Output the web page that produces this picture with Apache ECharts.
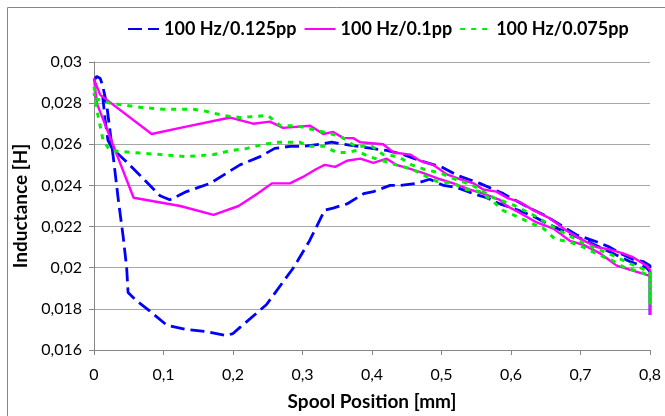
<!DOCTYPE html>
<html>
<head>
<meta charset="utf-8">
<script src="https://cdn.jsdelivr.net/npm/echarts@6/dist/echarts.min.js"></script>
<style>
html,body{margin:0;padding:0;background:#fff;}
#chart{width:665px;height:416px;}
</style>
</head>
<body>
<div id="chart"></div>
<script>
const seriesNames = ['100 Hz/0.125pp', '100 Hz/0.1pp', '100 Hz/0.075pp'];
const xTicks = [0, 0.1, 0.2, 0.3, 0.4, 0.5, 0.6, 0.7, 0.8];
const yTicks = [0.016, 0.018, 0.02, 0.022, 0.024, 0.026, 0.028, 0.03];

// [spool position (mm), inductance (H)] traced around each hysteresis loop
const blueData = [
  [0, 0.0291], [0.004, 0.0293], [0.009, 0.0292], [0.012, 0.0289],
  [0.018, 0.0280], [0.028, 0.0253], [0.035, 0.0233], [0.042, 0.0215], [0.047, 0.0200],
  [0.049, 0.0188], [0.061, 0.0184], [0.08, 0.0179], [0.105, 0.0172], [0.133, 0.0170],
  [0.16, 0.0169], [0.19, 0.0167], [0.2, 0.0168], [0.21, 0.0171], [0.248, 0.0182],
  [0.287, 0.0200], [0.31, 0.0213], [0.332, 0.0228], [0.344, 0.0229], [0.354, 0.0230],
  [0.364, 0.0231], [0.388, 0.0236], [0.402, 0.0237], [0.426, 0.0240], [0.44, 0.0240],
  [0.464, 0.0241], [0.483, 0.0243], [0.503, 0.0240], [0.522, 0.0239], [0.546, 0.0236],
  [0.565, 0.0234], [0.584, 0.0231], [0.61, 0.0228], [0.632, 0.0225], [0.655, 0.0221],
  [0.68, 0.0217], [0.709, 0.0213], [0.74, 0.0208], [0.771, 0.0203], [0.795, 0.0200],
  [0.8, 0.0198], [0.8, 0.0177], [0.8, 0.0201],
  [0.79, 0.0203], [0.776, 0.0204], [0.757, 0.0207], [0.742, 0.0210], [0.728, 0.0212],
  [0.694, 0.0216], [0.675, 0.0220], [0.651, 0.0225], [0.627, 0.0229], [0.605, 0.0233],
  [0.589, 0.0236], [0.555, 0.0241], [0.522, 0.0245], [0.5, 0.0249], [0.469, 0.0252],
  [0.445, 0.0255], [0.421, 0.0257], [0.4, 0.0258], [0.38, 0.0259], [0.359, 0.0260],
  [0.342, 0.0261], [0.325, 0.0260], [0.301, 0.0259], [0.282, 0.0259], [0.26, 0.0258],
  [0.239, 0.0254], [0.21, 0.0250], [0.167, 0.0241], [0.133, 0.0237], [0.109, 0.0233],
  [0.095, 0.0235], [0.066, 0.0245], [0.042, 0.0253], [0.026, 0.0258], [0.02, 0.0262],
  [0.016, 0.0272], [0.012, 0.0285]
];

const magentaData = [
  [0, 0.0292], [0.002, 0.0286], [0.004, 0.0280], [0.057, 0.0234], [0.124, 0.0230],
  [0.172, 0.02257], [0.208, 0.0230], [0.235, 0.0236], [0.256, 0.0241], [0.282, 0.0241],
  [0.30, 0.0244], [0.32, 0.0248], [0.332, 0.0250], [0.347, 0.0249], [0.364, 0.0252],
  [0.383, 0.0253], [0.402, 0.0251], [0.421, 0.0253], [0.435, 0.0250], [0.455, 0.0248],
  [0.474, 0.0246], [0.498, 0.0243], [0.517, 0.0241], [0.541, 0.0238], [0.56, 0.0236],
  [0.584, 0.0233], [0.594, 0.0230], [0.611, 0.0227], [0.637, 0.0222], [0.661, 0.0219],
  [0.685, 0.0213], [0.705, 0.0211], [0.728, 0.0207], [0.752, 0.0201], [0.781, 0.0198],
  [0.8, 0.0196], [0.8, 0.0177], [0.8, 0.0199],
  [0.795, 0.0201], [0.776, 0.0205], [0.761, 0.0207], [0.74, 0.0209], [0.723, 0.0210],
  [0.70, 0.0214], [0.68, 0.0218], [0.656, 0.0224], [0.632, 0.0228], [0.612, 0.0232],
  [0.594, 0.0234], [0.579, 0.0237], [0.56, 0.0238], [0.546, 0.0241], [0.527, 0.0243],
  [0.507, 0.02455], [0.488, 0.0250], [0.469, 0.0252], [0.455, 0.0255], [0.431, 0.0256],
  [0.416, 0.0260], [0.383, 0.0261], [0.373, 0.0263], [0.359, 0.0263], [0.344, 0.0266],
  [0.33, 0.0265], [0.311, 0.0269], [0.272, 0.0268], [0.253, 0.0271], [0.229, 0.0270],
  [0.196, 0.0273], [0.124, 0.0268], [0.083, 0.0265], [0.009, 0.0284], [0.002, 0.0290],
  [0, 0.0292]
];

const greenData = [
  [0, 0.0288], [0.004, 0.0282], [0.023, 0.0280], [0.066, 0.0278], [0.1, 0.0277],
  [0.143, 0.0277], [0.162, 0.0276], [0.186, 0.0274], [0.21, 0.0273], [0.25, 0.0274],
  [0.268, 0.0269], [0.292, 0.0269], [0.316, 0.0267], [0.33, 0.0266], [0.354, 0.0264],
  [0.376, 0.0259], [0.4, 0.0259], [0.416, 0.0255], [0.438, 0.0254], [0.457, 0.0250],
  [0.474, 0.0248], [0.498, 0.0246], [0.52, 0.0243], [0.545, 0.0240], [0.575, 0.0234],
  [0.6, 0.0231], [0.63, 0.0226], [0.67, 0.0218], [0.709, 0.0211], [0.74, 0.0207],
  [0.771, 0.0202], [0.8, 0.0198], [0.8, 0.0182], [0.8, 0.0196],
  [0.786, 0.0198], [0.764, 0.0200], [0.745, 0.02036], [0.723, 0.02068], [0.704, 0.0210],
  [0.685, 0.02125], [0.663, 0.0214], [0.647, 0.0219], [0.627, 0.0222], [0.611, 0.02245],
  [0.589, 0.02277], [0.575, 0.0232], [0.555, 0.0237], [0.536, 0.0238], [0.517, 0.0241],
  [0.493, 0.0242], [0.474, 0.0245], [0.457, 0.0248], [0.435, 0.0250], [0.416, 0.0252],
  [0.395, 0.0254], [0.378, 0.0257], [0.364, 0.0256], [0.349, 0.0256], [0.332, 0.0259],
  [0.311, 0.0259], [0.296, 0.0261], [0.265, 0.0261], [0.244, 0.0260], [0.22, 0.0258],
  [0.198, 0.0257], [0.172, 0.0255], [0.133, 0.0254], [0.095, 0.0255], [0.057, 0.0256],
  [0.023, 0.0257], [0.013, 0.0262], [0.004, 0.0277], [0, 0.0285]
];

const fmt = v => String(parseFloat(v.toFixed(3))).replace('.', ',');
const font = 'Lato, "Liberation Sans", sans-serif';

const chart = echarts.init(document.getElementById('chart'), null, {renderer: 'canvas'});
chart.setOption({
  animation: false,
  backgroundColor: '#ffffff',
  graphic: [{
    type: 'rect', silent: true, z: -10,
    shape: {x: 7.5, y: 7.5, width: 700, height: 450},
    style: {fill: 'none', stroke: '#868686', lineWidth: 1}
  }],
  legend: {
    left: 122, top: 15,
    itemWidth: 31, itemHeight: 14, itemGap: 7,
    itemStyle: {opacity: 0},
    textStyle: {fontFamily: font, fontWeight: 'bold', fontSize: 18, color: '#000'},
    data: seriesNames
  },
  grid: {left: 94, right: 15, top: 62, bottom: 64, containLabel: false},
  xAxis: {
    type: 'value', min: 0, max: 0.8, interval: 0.1,
    name: 'Spool Position [mm]', nameLocation: 'middle', nameGap: 42,
    nameTextStyle: {fontFamily: font, fontWeight: 'bold', fontSize: 19, color: '#000'},
    axisLine: {show: true, lineStyle: {color: '#868686', width: 1}},
    axisTick: {show: true, length: 5, lineStyle: {color: '#868686'}},
    axisLabel: {margin: 17, fontFamily: font, fontSize: 16, color: '#000', formatter: fmt},
    splitLine: {show: false}
  },
  yAxis: {
    type: 'value', min: 0.016, max: 0.03, interval: 0.002,
    name: 'Inductance [H]', nameLocation: 'middle', nameGap: 58,
    nameTextStyle: {fontFamily: font, fontWeight: 'bold', fontSize: 19, color: '#000'},
    axisLine: {show: true, lineStyle: {color: '#868686', width: 1}},
    axisTick: {show: true, length: 5, lineStyle: {color: '#868686'}},
    axisLabel: {margin: 12, fontFamily: font, fontSize: 16, color: '#000', formatter: fmt},
    splitLine: {show: true, lineStyle: {color: '#a6a6a6', width: 1}}
  },
  series: [
    {name: seriesNames[0], type: 'line', data: blueData, showSymbol: false, symbol: 'none',
     lineStyle: {color: '#0000ff', width: 2.8, type: [14, 6]}, itemStyle: {color: '#0000ff'}},
    {name: seriesNames[1], type: 'line', data: magentaData, showSymbol: false, symbol: 'none',
     lineStyle: {color: '#ff00ff', width: 2.4, type: 'solid'}, itemStyle: {color: '#ff00ff'}},
    {name: seriesNames[2], type: 'line', data: greenData, showSymbol: false, symbol: 'none',
     lineStyle: {color: '#00ee00', width: 3, type: [5, 6]}, itemStyle: {color: '#00ee00'}}
  ]
});
</script>
</body>
</html>
